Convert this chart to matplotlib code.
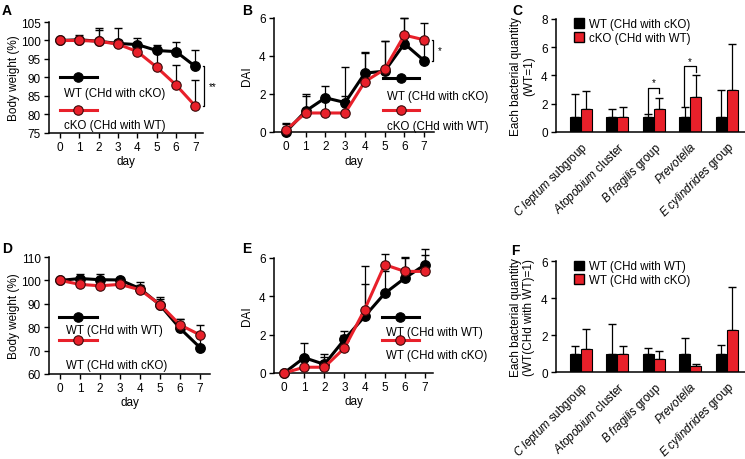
import matplotlib
matplotlib.use("Agg")
import matplotlib.pyplot as plt
import numpy as np
from matplotlib.lines import Line2D
from matplotlib.patches import Patch

plt.rcParams['font.family'] = ['Liberation Sans', 'DejaVu Sans']
plt.rcParams['mathtext.fontset'] = 'custom'
plt.rcParams['mathtext.it'] = 'Liberation Sans:italic'
plt.rcParams['mathtext.rm'] = 'Liberation Sans'
plt.rcParams['font.size'] = 8

RED = '#e8202a'
TICK_FS = 8.5
LAB_FS = 8.5
LEG_FS = 8.3

# ---------------- data ----------------
days = [0, 1, 2, 3, 4, 5, 6, 7]

# A: body weight
a_wt = [100, 100.2, 99.8, 99.2, 98.9, 97.3, 97.0, 93.0]
a_wt_sd = [0, 1.3, 3.7, 4.3, 1.9, 1.5, 2.7, 4.3]
a_ko = [100, 100, 99.8, 99.0, 97.0, 92.8, 88.0, 82.3]
a_ko_sd = [0, 1.0, 3.0, 1.0, 2.0, 4.5, 5.5, 6.9]

# B: DAI
b_wt = [0, 1.1, 1.8, 1.55, 3.1, 3.2, 4.65, 3.75]
b_wt_sd = [0.45, 0.9, 0.6, 1.85, 1.1, 1.6, 1.35, 0.9]
b_ko = [0.1, 1.0, 1.0, 1.0, 2.65, 3.3, 5.1, 4.85]
b_ko_sd = [0.3, 0.9, 0.8, 0.9, 1.5, 1.5, 0.9, 0.9]

# D: body weight
d_wt = [100, 100.8, 100.3, 100.2, 96.5, 89.5, 79.5, 71.3]
d_wt_sd = [0, 2.0, 2.5, 1.0, 3.0, 3.3, 4.0, 6.0]
d_ko = [100, 98.3, 97.7, 98.3, 96.0, 89.7, 81.0, 76.7]
d_ko_sd = [0, 1.0, 1.0, 1.0, 2.0, 2.5, 2.5, 4.3]

# E: DAI
e_wt = [0, 0.8, 0.45, 1.75, 2.95, 4.15, 4.95, 5.65]
e_wt_sd = [0, 0.75, 0.55, 0.45, 1.7, 1.15, 1.05, 0.5]
e_ko = [0, 0.3, 0.3, 1.3, 3.3, 5.65, 5.3, 5.3]
e_ko_sd = [0, 0.3, 0.55, 0.7, 2.3, 0.55, 0.75, 1.15]

# C / F: bacterial groups
bacteria = [r'$\it{C\ leptum}$ subgroup', r'$\it{Atopobium}$ cluster',
            r'$\it{B\ fragilis}$ group', r'$\it{Prevotella}$',
            r'$\it{E\ cylindrides}$ group']
c_wt = [1.05, 1.05, 1.05, 1.05, 1.05]
c_wt_sd = [1.65, 0.6, 0.2, 0.7, 1.95]
c_ko = [1.65, 1.05, 1.65, 2.5, 3.0]
c_ko_sd = [1.25, 0.7, 0.75, 1.5, 3.2]

f_wt = [1.0, 1.0, 1.0, 1.0, 1.0]
f_wt_sd = [0.4, 1.6, 0.3, 0.85, 0.45]
f_ko = [1.25, 1.0, 0.7, 0.3, 2.25]
f_ko_sd = [1.05, 0.4, 0.45, 0.15, 2.35]

# ---------------- figure ----------------
fig = plt.figure(figsize=(7.45, 4.6), dpi=100)


def style(ax):
    for s in ['top', 'right']:
        ax.spines[s].set_visible(False)
    for s in ['left', 'bottom']:
        ax.spines[s].set_linewidth(1.1)
    ax.tick_params(direction='out', length=3.5, width=1.0,
                   labelsize=TICK_FS, pad=2.5)


def line_panel(ax, wt, wt_sd, ko, ko_sd, xlim, ylim, yticks, ylabel,
               labels, leg):
    style(ax)
    z = np.zeros(len(days))
    ax.errorbar(days, wt, yerr=[z, wt_sd], fmt='none', ecolor='black',
                elinewidth=0.9, capsize=3.2, capthick=1.0, zorder=2, clip_on=False)
    ax.errorbar(days, ko, yerr=[z, ko_sd], fmt='none', ecolor='black',
                elinewidth=0.9, capsize=3.2, capthick=1.0, zorder=2, clip_on=False)
    ax.plot(days, wt, color='black', lw=2.2, marker='o', ms=6.8,
            mfc='black', mec='black', zorder=3, clip_on=False)
    ax.plot(days, ko, color=RED, lw=2.2, marker='o', ms=6.8,
            mfc=RED, mec='#3a0a0a', mew=0.8, zorder=4, clip_on=False)
    ax.set_xlim(*xlim)
    ax.set_ylim(*ylim)
    ax.set_xticks(days)
    ax.set_yticks(yticks)
    ax.set_ylabel(ylabel, fontsize=LAB_FS)
    ax.set_xlabel('day', fontsize=LAB_FS)
    # custom legend: line with marker, text below
    (x0, x1, y1, ty1, y2, ty2, tx) = leg
    for (yl, ty, col, mec, lab) in [(y1, ty1, 'black', 'black', labels[0]),
                                    (y2, ty2, RED, '#3a0a0a', labels[1])]:
        ax.add_line(Line2D([x0, x1], [yl, yl], color=col, lw=2.2,
                           transform=ax.transAxes, clip_on=False, zorder=5))
        ax.add_line(Line2D([(x0 + x1) / 2], [yl], color=col, marker='o',
                           ms=6.8, mfc=col, mec=mec, mew=0.8,
                           transform=ax.transAxes, clip_on=False, zorder=5))
        ax.text(tx, ty, lab, transform=ax.transAxes, fontsize=LEG_FS,
                ha='left', va='center')


def bracket(ax, x, ylo, yhi, text, dx=0.08):
    ax.plot([x - dx, x, x, x - dx], [yhi, yhi, ylo, ylo], color='black',
            lw=0.9, clip_on=False)
    ax.text(x + 0.25, (ylo + yhi) / 2, text, ha='left', va='center',
            fontsize=7)


def bar_panel(ax, wt, wt_sd, ko, ko_sd, ylim, yticks, ylabel, labels):
    style(ax)
    x = np.arange(len(bacteria))
    w = 0.3
    ax.bar(x - w / 2, wt, w, color='black', edgecolor='black', lw=0.8, zorder=2)
    ax.bar(x + w / 2, ko, w, color=RED, edgecolor='black', lw=0.8, zorder=2)
    z = np.zeros(len(x))
    ax.errorbar(x - w / 2, wt, yerr=[z, wt_sd], fmt='none', ecolor='black',
                elinewidth=0.9, capsize=3, capthick=1.0, zorder=1)
    ax.errorbar(x + w / 2, ko, yerr=[z, ko_sd], fmt='none', ecolor='black',
                elinewidth=0.9, capsize=3, capthick=1.0, zorder=1)
    ax.set_xlim(-0.68, 4.5)
    ax.set_ylim(*ylim)
    ax.set_yticks(yticks)
    ax.set_xticks(x)
    ax.set_xticklabels(bacteria, rotation=45, ha='right',
                       rotation_mode='anchor', fontsize=8.3)
    ax.tick_params(axis='x', length=0, pad=5)
    ax.set_ylabel(ylabel, fontsize=LAB_FS, linespacing=1.1)
    handles = [Patch(facecolor='black', edgecolor='black'),
               Patch(facecolor=RED, edgecolor='black')]
    ax.legend(handles, labels, loc='upper left', bbox_to_anchor=(0.04, 1.1),
              frameon=False, handlelength=0.9, handleheight=0.9,
              handletextpad=0.4, labelspacing=0.15, fontsize=LEG_FS)
    return x, w


# ---- A ----
axA = fig.add_axes([0.0658, 0.7087, 0.2067, 0.2413])
line_panel(axA, a_wt, a_wt_sd, a_ko, a_ko_sd, (-0.57, 7.4), (75, 105),
           [75, 80, 85, 90, 95, 100, 105], 'Body weight (%)',
           ['WT (CHd with cKO)', 'cKO (CHd with WT)'],
           (0.07, 0.31, 0.50, 0.36, 0.207, 0.073, 0.10))
bracket(axA, 7.46, a_ko[-1], a_wt[-1], '**')
axA.yaxis.set_label_coords(-0.19, 0.5)
axA.xaxis.set_label_coords(0.5, -0.2)

# ---- B ----
axB = fig.add_axes([0.3678, 0.7109, 0.2148, 0.2478])
line_panel(axB, b_wt, b_wt_sd, b_ko, b_ko_sd, (-0.6, 7.5), (0, 6),
           [0, 2, 4, 6], 'DAI',
           ['WT (CHd with cKO)', 'cKO (CHd with WT)'],
           (0.679, 0.907, 0.473, 0.317, 0.19, 0.05, 0.705))
bracket(axB, 7.46, b_wt[-1], b_ko[-1], '*')
axB.yaxis.set_label_coords(-0.13, 0.5)
axB.xaxis.set_label_coords(0.5, -0.2)

# ---- C ----
axC = fig.add_axes([0.7463, 0.7109, 0.2537, 0.2457])
x, w = bar_panel(axC, c_wt, c_wt_sd, c_ko, c_ko_sd, (0, 8), [0, 2, 4, 6, 8],
                 'Each bacterial quantity\n(WT=1)',
                 ['WT (CHd with cKO)', 'cKO (CHd with WT)'])
for i, (ylo, ytop, yr, star) in [(2, (1.3, 3.1, 2.75, 3.5)),
                                 (3, (1.85, 4.7, 4.25, 5.05))]:
    xl, xr = x[i] - w / 2 - 0.02, x[i] + w / 2
    axC.plot([xl, xl, xr, xr], [ylo, ytop, ytop, yr], color='black', lw=0.9)
    axC.text((xl + xr) / 2, star, '*', ha='center', va='center', fontsize=7)
axC.yaxis.set_label_coords(-0.11, 0.5)

# ---- D ----
axD = fig.add_axes([0.0658, 0.1848, 0.2161, 0.2543])
line_panel(axD, d_wt, d_wt_sd, d_ko, d_ko_sd, (-0.55, 7.5), (60, 110),
           [60, 70, 80, 90, 100, 110], 'Body weight (%)',
           ['WT (CHd with WT)', 'WT (CHd with cKO)'],
           (0.062, 0.298, 0.488, 0.38, 0.29, 0.076, 0.105))
axD.yaxis.set_label_coords(-0.18, 0.5)
axD.xaxis.set_label_coords(0.5, -0.19)

# ---- E ----
axE = fig.add_axes([0.3678, 0.187, 0.2134, 0.25])
line_panel(axE, e_wt, e_wt_sd, e_ko, e_ko_sd, (-0.5, 7.4), (0, 6),
           [0, 2, 4, 6], 'DAI',
           ['WT (CHd with WT)', 'WT (CHd with cKO)'],
           (0.68, 0.911, 0.487, 0.357, 0.287, 0.158, 0.705))
axE.yaxis.set_label_coords(-0.13, 0.5)
axE.xaxis.set_label_coords(0.5, -0.19)

# ---- F ----
axF = fig.add_axes([0.7463, 0.1891, 0.2537, 0.2413])
bar_panel(axF, f_wt, f_wt_sd, f_ko, f_ko_sd, (0, 6), [0, 2, 4, 6],
          'Each bacterial quantity\n(WT(CHd with WT)=1)',
          ['WT (CHd with WT)', 'WT (CHd with cKO)'])
axF.yaxis.set_label_coords(-0.11, 0.5)

# panel letters
for lab, px, py in [('A', 2, 4), ('B', 242, 4), ('C', 512, 4),
                    ('D', 2, 242), ('E', 242, 242), ('F', 511, 244)]:
    fig.text(px / 745, 1 - py / 460, lab, fontsize=10, fontweight='bold',
             ha='left', va='top')

fig.savefig('out.png', dpi=100)
